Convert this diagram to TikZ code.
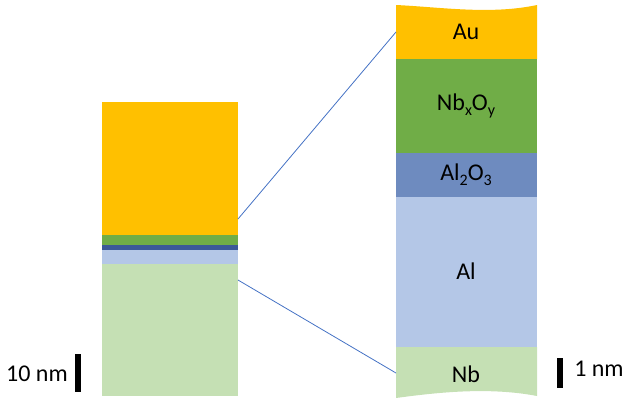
\documentclass[tikz,border=0pt]{standalone}
\usepackage{fontspec}
\setmainfont{Carlito}
\definecolor{auY}{HTML}{FFC000}
\definecolor{oxG}{HTML}{70AD47}
\definecolor{aloD}{HTML}{3B5998}
\definecolor{aloL}{HTML}{6E8BBF}
\definecolor{alB}{HTML}{B4C7E7}
\definecolor{nbG}{HTML}{C5E0B4}
\definecolor{zoomB}{HTML}{4472C4}
\newcommand{\lowsub}[1]{\raisebox{-0.45ex}{\fontsize{12}{14}\selectfont #1}}
\tikzstyle{layerAu}=[fill=auY]
\tikzstyle{layerNbO}=[fill=oxG]
\tikzstyle{layerAlO}=[fill=aloL]
\tikzstyle{layerAl}=[fill=alB]
\tikzstyle{layerNb}=[fill=nbG]
\tikzstyle{film}=[font=\fontsize{18}{22}\selectfont, text=black, inner sep=0pt]
\tikzstyle{zoomline}=[draw=zoomB, line width=0.6pt]
\tikzstyle{scalebar}=[fill=black]

\begin{document}
\begin{tikzpicture}[x=0.75pt, y=-0.75pt]
				\useasboundingbox (0,0) rectangle (623,401);

				% Full stack, thickness to scale
				\fill[layerAu] (102,102) rectangle (238,235);
				\fill[layerNbO] (102,235) rectangle (238,245);
				\fill[aloD] (102,245) rectangle (238,250);
				\fill[layerAl] (102,250) rectangle (238,264);
				\fill[layerNb] (102,264) rectangle (238,396);

				% Close-up of the junction, cut at top and bottom
				\fill[layerAu] (396,5) .. controls (440,7) and (490,15) .. (537,5) -- (537,59) -- (396,59) -- cycle;
				\fill[layerNbO] (396,59) rectangle (537,153);
				\fill[layerAlO] (396,153) rectangle (537,197);
				\fill[layerAl] (396,197) rectangle (537,347);
				\fill[layerNb] (396,347) -- (537,347) -- (537,396) .. controls (490,387) and (440,392) .. (396,398) -- cycle;

				\node[film] (au) at (466,32) {Au};
				\node[film] (nbo) at (466,106) {Nb\lowsub{x}O\lowsub{y}};
				\node[film] (alo) at (466,175) {Al\lowsub{2}O\lowsub{3}};
				\node[film] (al) at (466,271) {Al};
				\node[film] (nb) at (466,374) {Nb};

				% Zoom lines
				\coordinate (top0) at (238,219);
				\coordinate (top1) at (396,32);
				\coordinate (bot0) at (238,280);
				\coordinate (bot1) at (396,373);
				\draw[zoomline] (top0) -- (top1);
				\draw[zoomline] (bot0) -- (bot1);

				% Scale bars
				\fill[scalebar] (75,354) rectangle (81,392);
				\node[film, anchor=east] (tenNm) at (68,374) {10 nm};
				\fill[scalebar] (557,358) rectangle (563,388);
				\node[film, anchor=west] (oneNm) at (574,369) {1 nm};
			\end{tikzpicture}
\end{document}
